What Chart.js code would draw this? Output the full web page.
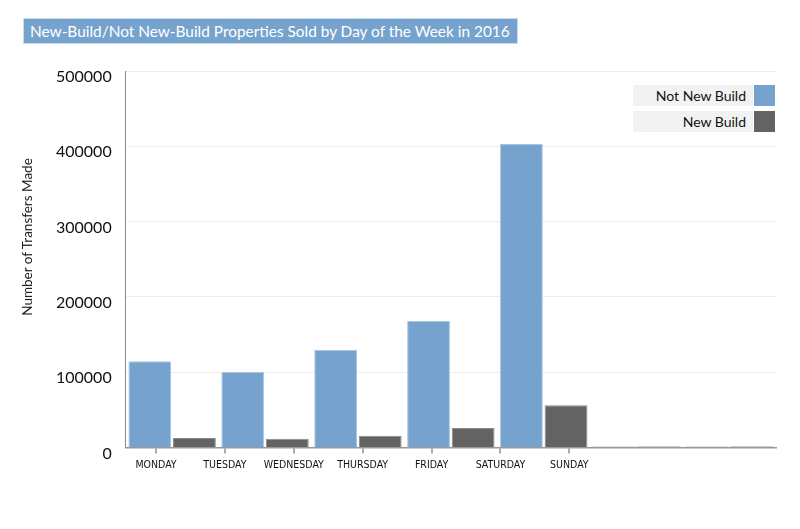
<!DOCTYPE html>
<html>
<head>
<meta charset="utf-8">
<script src="https://cdn.jsdelivr.net/npm/chart.js@4/dist/chart.umd.min.js"></script>
<style>
  html, body { margin: 0; padding: 0; background: #fff; }
  #wrap { position: relative; width: 800px; height: 529px; }
  #chart { position: absolute; left: 0; top: 0; }
  #title {
    position: absolute; left: 23px; top: 18px; width: 495px; height: 26px;
    box-sizing: border-box; background: #76a3cd; border: 1px solid #c9dbee;
    color: #fff; font: 15.4px Lato, sans-serif; line-height: 24px; padding-left: 6px;
    white-space: nowrap;
  }
  #ytitle {
    position: absolute; left: 28px; top: 237px; width: 200px; height: 18px;
    margin-left: -100px; margin-top: -9px; text-align: center; line-height: 18px;
    transform: rotate(-90deg); font: 13.5px Lato, sans-serif; color: #222; white-space: nowrap;
  }
  .lg { position: absolute; left: 633px; height: 21px; width: 142px; font: 14px Lato, sans-serif; color: #111; }
  .lg .txt { position: absolute; left: 0; top: 0; width: 120px; height: 100%; background: #f2f2f2;
    text-align: right; box-sizing: border-box; padding-right: 7px; line-height: 21px; }
  .lg .sw { position: absolute; left: 121px; top: 0; width: 21px; height: 100%; }
</style>
</head>
<body>
<div id="wrap">
  <canvas id="chart" width="800" height="529"></canvas>
  <div id="title">New-Build/Not New-Build Properties Sold by Day of the Week in 2016</div>
  <div id="ytitle">Number of Transfers Made</div>
  <div id="legend"></div>
</div>
<script>
const days = ["MONDAY", "TUESDAY", "WEDNESDAY", "THURSDAY", "FRIDAY", "SATURDAY", "SUNDAY"];
const notNewBuild = [114300, 100200, 129300, 168000, 403000, 2000, 1800];
const newBuild = [12400, 11600, 15600, 25700, 56000, 1800, 1700];
const yTicks = [0, 100000, 200000, 300000, 400000, 500000];
const seriesNames = ["Not New Build", "New Build"];

const weekend = new Set([5, 6]);
const blue = "#76a3cd", blueLight = "#c9ddf0";
const grey = "#636363", greyLight = "#bdbdbd";

const chart = new Chart(document.getElementById("chart"), {
  type: "bar",
  data: {
    labels: days,
    datasets: [
      {
        label: seriesNames[0], data: notNewBuild,
        backgroundColor: c => weekend.has(c.dataIndex) ? blueLight : blue,
        borderColor: c => weekend.has(c.dataIndex) ? blueLight : "#a8c6e4",
        borderWidth: 1, barPercentage: 0.96, categoryPercentage: 0.96
      },
      {
        label: seriesNames[1], data: newBuild,
        backgroundColor: c => weekend.has(c.dataIndex) ? greyLight : grey,
        borderColor: c => weekend.has(c.dataIndex) ? greyLight : "#8a8a8a",
        borderWidth: 1, barPercentage: 0.96, categoryPercentage: 0.96
      }
    ]
  },
  options: {
    responsive: false,
    animation: false,
    layout: { padding: { left: 42, right: 24, top: 71, bottom: 51 } },
    plugins: { legend: { display: false }, title: { display: false }, tooltip: { enabled: false } },
    scales: {
      x: { display: false, offset: true },
      x2: {
        type: "linear", position: "bottom", min: -0.44, max: 9.0, offset: false,
        afterBuildTicks: axis => { axis.ticks = days.map((d, i) => ({ value: i })); },
        ticks: {
          callback: v => days[v], autoSkip: false, maxRotation: 0,
          font: { family: "'Liberation Sans Narrow', 'DejaVu Sans Condensed', Lato", size: 10.5 }, color: "#111", padding: 6
        },
        grid: { drawOnChartArea: false, offset: false, color: "#aaa", tickLength: 6, lineWidth: 2 },
        border: { color: "#999", width: 1.5 }
      },
      y: {
        min: 0, max: 500000,
        afterBuildTicks: axis => { axis.ticks = yTicks.map(v => ({ value: v })); },
        ticks: {
          font: { family: "Lato", size: 16 }, color: "#111", padding: 14, labelOffset: 6,
          callback: v => String(v)
        },
        grid: { color: "#eeeeee", drawTicks: false },
        border: { color: "#888" }
      }
    }
  }
});

const lg = document.getElementById("legend");
const tops = [85, 111];
chart.data.datasets.forEach((ds, i) => {
  const row = document.createElement("div");
  row.className = "lg";
  row.style.top = tops[i] + "px";
  row.innerHTML = '<div class="txt">' + ds.label + '</div><div class="sw" style="background:' + (i === 0 ? blue : grey) + '"></div>';
  lg.appendChild(row);
});
</script>
</body>
</html>
